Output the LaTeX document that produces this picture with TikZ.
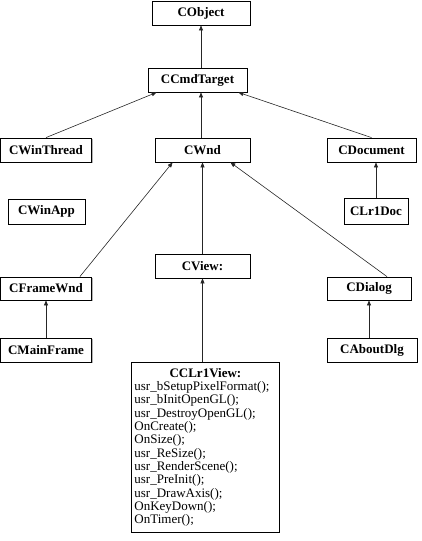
\documentclass[tikz,border=0pt]{standalone}
\usepackage{fontspec}
\setmainfont{Liberation Serif}
\usetikzlibrary{arrows.meta,shadows}

\tikzset{
  cls/.style={draw, line width=0.8pt, fill=white, inner sep=0pt,
    font=\bfseries\fontsize{13}{14}\selectfont,
    drop shadow={shadow xshift=1pt, shadow yshift=-1pt, fill=gray!60, opacity=1}},
  inh/.style={-{Triangle[length=5pt,width=4pt]}, line width=0.6pt, draw=black!85},
}

\begin{document}
\begin{tikzpicture}[x=1pt,y=-1pt]
  \useasboundingbox (0,0) rectangle (422,541);
  % classes
  \node[cls, minimum width=98pt, minimum height=24pt] (obj) at (201,13) {CObject};
  \node[cls, minimum width=99pt, minimum height=24pt] (cmd) at (197.5,80) {CCmdTarget};
  \node[cls, minimum width=91pt, minimum height=24pt] (thread) at (46,150) {CWinThread};
  \node[cls, minimum width=95pt, minimum height=24pt] (wnd) at (202.5,150) {CWnd};
  \node[cls, minimum width=89pt, minimum height=24pt] (doc) at (371.5,150) {CDocument};
  \node[cls, minimum width=77pt, minimum height=25pt] (app) at (46.5,211.5) {CWinApp};
  \node[cls, minimum width=64pt, minimum height=26pt] (lrdoc) at (376,211) {CLr1Doc};
  \node[cls, minimum width=91pt, minimum height=23pt] (frame) at (46,288.5) {CFrameWnd};
  \node[cls, minimum width=95pt, minimum height=24pt] (view) at (202.5,266) {CView:};
  \node[cls, minimum width=84pt, minimum height=23pt] (dialog) at (369,288.5) {CDialog};
  \node[cls, minimum width=91pt, minimum height=24pt] (mainfrm) at (46,350) {CMainFrame};
  \node[cls, minimum width=90pt, minimum height=24pt] (about) at (372,350) {CAboutDlg};
  \node[cls, font=\fontsize{13}{13.3}\selectfont, text width=142pt, inner xsep=3pt,
        minimum height=170pt, anchor=north west] (ccview) at (131,362)
    {\centering\textbf{CCLr1View:}\par\raggedright
     usr\_bSetupPixelFormat();\\
     usr\_bInitOpenGL();\\
     usr\_DestroyOpenGL();\\
     OnCreate();\\
     OnSize();\\
     usr\_ReSize();\\
     usr\_RenderScene();\\
     usr\_PreInit();\\
     usr\_DrawAxis();\\
     OnKeyDown();\\
     OnTimer();};

  % inheritance
  \draw[inh] (cmd.north -| obj.south) -- (obj.south);
  \draw[inh] (thread.north) -- ([xshift=9pt]cmd.south west);
  \draw[inh] (wnd.north -| obj.south) -- (cmd.south -| obj.south);
  \draw[inh] (doc.north) -- ([xshift=-9pt]cmd.south east);
  \draw[inh] (lrdoc.north) -- (lrdoc.north |- doc.south);
  \draw[inh] ([xshift=-12pt]frame.north east) -- ([xshift=18pt]wnd.south west);
  \draw[inh] (view.north) -- (view.north |- wnd.south);
  \draw[inh] ([xshift=18pt]dialog.north) -- ([xshift=-20pt]wnd.south east);
  \draw[inh] (mainfrm.north -| frame.south) -- (frame.south);
  \draw[inh] (about.north -| dialog.south) -- (dialog.south);
  \draw[inh] (ccview.north -| view.south) -- (view.south);
\end{tikzpicture}
\end{document}
